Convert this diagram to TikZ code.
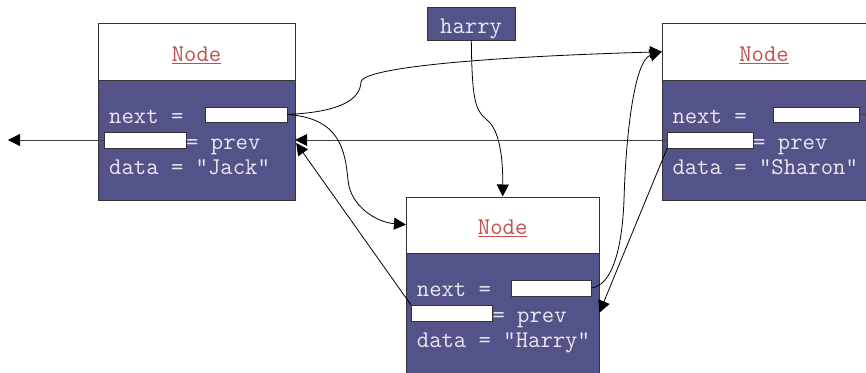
\documentclass[tikz,border=0pt]{standalone}
\usepackage{fontspec}
\usetikzlibrary{arrows.meta,positioning,calc}
\definecolor{bleu}{HTML}{53538A}
\definecolor{rouge}{HTML}{C0504D}
\definecolor{pale}{HTML}{E8E8F0}
\tikzset{head/.style={
    draw=black!80,
    fill=white,
    inner sep=0pt},
  nom/.style={
    anchor=base,
    inner sep=0pt,
    font=\ttfamily\fontsize{24}{28}\selectfont,
    text=rouge},
  body/.style={
    draw=black!80,
    fill=bleu,
    inner sep=0pt},
  field/.style={
    draw=black!80,
    fill=white,
    inner sep=0pt},
  champ/.style={
    anchor=base west,
    inner sep=0pt,
    font=\ttfamily\fontsize{24}{28}\selectfont,
    text=pale},
  lien/.style={
    -{Triangle[length=12pt,width=12pt,color=black]},
    line width=0.8pt}}

\begin{document}
\begin{tikzpicture}[x=1pt,y=-1pt]
\useasboundingbox (0,0) rectangle (866,372);
\clip (0,0) rectangle (866,372);

\coordinate (gauche) at (8,140);
\coordinate (droite) at (870,114.5);

% Jack
\node[head,
  minimum width=197pt,
  minimum height=56.5pt] (jhead) at (196.5,51.75) {};
\node[nom] (jnom) at (196.5,61.7) {\underline{Node}};
\node[body,
  minimum width=197pt,
  minimum height=120pt] (jbody) at (196.5,140) {};
\node[field,
  minimum width=82.3pt,
  minimum height=15.6pt] (jnext) at (245.85,114.5) {};
\node[field,
  minimum width=81.7pt,
  minimum height=16pt] (jprev) at (144.85,140) {};
\node[champ] (jt1) at (109,123.5) {next =};
\node[champ] (jt2) at (186,149) {= prev};
\node[champ] (jt3) at (109,174) {data = “Jack"};

% Sharon
\node[head,
  minimum width=206pt,
  minimum height=56.5pt] (shead) at (765,51.75) {};
\node[nom] (snom) at (764,61.7) {\underline{Node}};
\node[body,
  minimum width=206pt,
  minimum height=120pt] (sbody) at (765,140) {};
\node[field,
  minimum width=86pt,
  minimum height=15.6pt] (snext) at (816,114.5) {};
\node[field,
  minimum width=85.7pt,
  minimum height=16pt] (sprev) at (710.2,140) {};
\node[champ] (st1) at (672.3,123.5) {next =};
\node[champ] (st2) at (753,149) {= prev};
\node[champ] (st3) at (672.3,174) {data = "Sharon"};

% Harry
\node[head,
  minimum width=193pt,
  minimum height=56pt] (hhead) at (502.65,224.7) {};
\node[nom] (hnom) at (502.65,234.5) {\underline{Node}};
\node[body,
  minimum width=193pt,
  minimum height=120pt] (hbody) at (502.65,312.7) {};
\node[field,
  minimum width=80.6pt,
  minimum height=16.3pt] (hnext) at (551,288) {};
\node[field,
  minimum width=81pt,
  minimum height=16pt] (hprev) at (451.8,313.3) {};
\node[champ] (ht1) at (416.7,296.7) {next =};
\node[champ] (ht2) at (492.3,322) {= prev};
\node[champ] (ht3) at (416.7,347) {data = "Harry"};

\node[body,
  minimum width=88.7pt,
  minimum height=32.3pt] (harry) at (471.3,23.8) {};
\node[champ] (harrynom) at (440,33) {harry};

\draw[lien,black!75] (jprev.west) -- (gauche);
\draw[lien,black!75] (sprev.west) -- (jbody.east);
\draw[line width=0.8pt,black!75] (snext.east) -- (droite);
\draw[lien] (hprev.north west) -- ($(jbody.east)+(1,3)$);
\draw[lien] (sprev.south west) -- (hbody.east);
\draw[lien] (jnext.east) .. controls (340,112) and (360,100) .. (361,82)
  .. controls (362,70) and (450,58) .. (shead.west);
\draw[lien] (jnext.east) .. controls (340,118) and (345,150) .. (348,180)
  .. controls (350,205) and (375,222) .. (hhead.west);
\draw[lien] (harry.south) .. controls (472,100) and (475,110) .. (487,120)
  .. controls (500,130) and (503,160) .. (hhead.north);
\draw[lien] (hnext.east) .. controls (612,285) and (622,250) .. (624,200)
  .. controls (626,130) and (635,60) .. (shead.west);

\end{tikzpicture}
\end{document}
